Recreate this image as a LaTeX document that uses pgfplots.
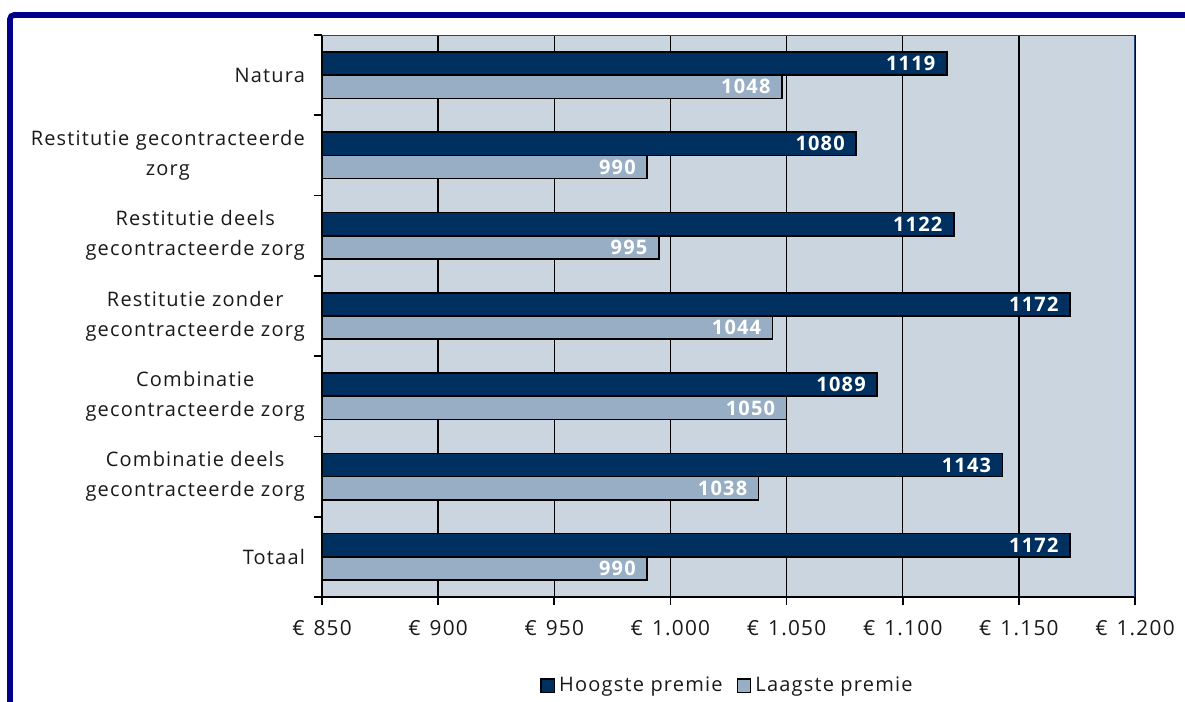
\documentclass[border=0pt]{standalone}
\usepackage{pgfplots}
\pgfplotsset{compat=1.18}
\usepackage{fontspec}
\setmainfont{Open Sans}[LetterSpace=6]

\definecolor{framenavy}{RGB}{0,0,140}
\definecolor{hoog}{RGB}{0,48,96}
\definecolor{laag}{RGB}{152,174,196}
\definecolor{plotbg}{RGB}{202,213,223}
\definecolor{edgeblue}{RGB}{31,73,125}
\definecolor{txt}{RGB}{25,25,25}
\newcommand{\eur}{€\hspace{4.5pt}}

\begin{document}
\begin{tikzpicture}
\useasboundingbox (0,0) rectangle (592.5pt,351pt);
% outer frame
\draw[framenavy, line width=2.8pt, rounded corners=2pt] (5pt,-10pt) -- (5pt,343.5pt) -- (610pt,343.5pt);
\begin{axis}[
  at={(161pt,52.5pt)}, anchor=south west,
  scale only axis, width=406.5pt, height=281pt,
  xbar=0pt, bar width=11.6pt,
  xmin=850, xmax=1200,
  ymin=-0.5, ymax=6.5, y dir=reverse,
  axis background/.style={fill=plotbg},
  axis lines*=left,
  axis line style={-, black, line width=1pt},
  xtick={850,900,...,1200},
  xticklabels={\eur 850,\eur 900,\eur 950,\eur 1.000,\eur 1.050,\eur 1.100,\eur 1.150,\eur 1.200},
  xmajorgrids, major grid style={black, line width=0.7pt},
  tick align=outside, major tick length=4pt,
  tick style={black, line width=0.8pt},
  ytick={-0.5,0.5,...,6.5}, yticklabels={{},{},{},{},{},{},{},{}},
  extra y ticks={0,1,2,3,4,5,6},
  extra y tick labels={Natura,
    Restitutie gecontracteerde\\zorg,
    Restitutie deels\\gecontracteerde zorg,
    Restitutie zonder\\gecontracteerde zorg,
    Combinatie\\gecontracteerde zorg,
    Combinatie deels\\gecontracteerde zorg,
    Totaal},
  extra y tick style={major tick length=0pt},
  yticklabel style={align=center, font=\fontsize{10}{15}\selectfont, text=txt, xshift=-5pt},
  xticklabel style={font=\fontsize{10.4}{12}\selectfont, text=txt, yshift=-4pt},
  nodes near coords={\pgfmathprintnumber[fixed,precision=0,1000 sep={},assume math mode=true]{\pgfplotspointmeta}},
  nodes near coords style={anchor=east, xshift=-2pt, text=white, font=\bfseries\fontsize{10}{12}\selectfont},
  point meta=x,
  legend style={at={(0.5,-0.158)}, anchor=center, draw=none, fill=none,
    legend columns=-1, font=\fontsize{10}{12}\selectfont, text=txt,
    /tikz/every even column/.append style={column sep=5pt}},
  legend image code/.code={\draw[#1, draw=black, line width=0.8pt] (0pt,-3.3pt) rectangle (6.6pt,3.3pt);},
]
\addplot[fill=hoog, draw=black, line width=0.8pt, bar shift=5.8pt] coordinates {
  (1119,0) (1080,1) (1122,2) (1172,3) (1089,4) (1143,5) (1172,6)};
\addlegendentry{Hoogste premie}
\addplot[fill=laag, draw=black, line width=0.8pt, bar shift=-5.8pt] coordinates {
  (1048,0) (990,1) (995,2) (1044,3) (1050,4) (1038,5) (990,6)};
\addlegendentry{Laagste premie}
\draw[edgeblue, line width=0.8pt] (rel axis cs:0,1) -- (rel axis cs:1,1) -- (rel axis cs:1,0);
\end{axis}
\end{tikzpicture}
\end{document}
